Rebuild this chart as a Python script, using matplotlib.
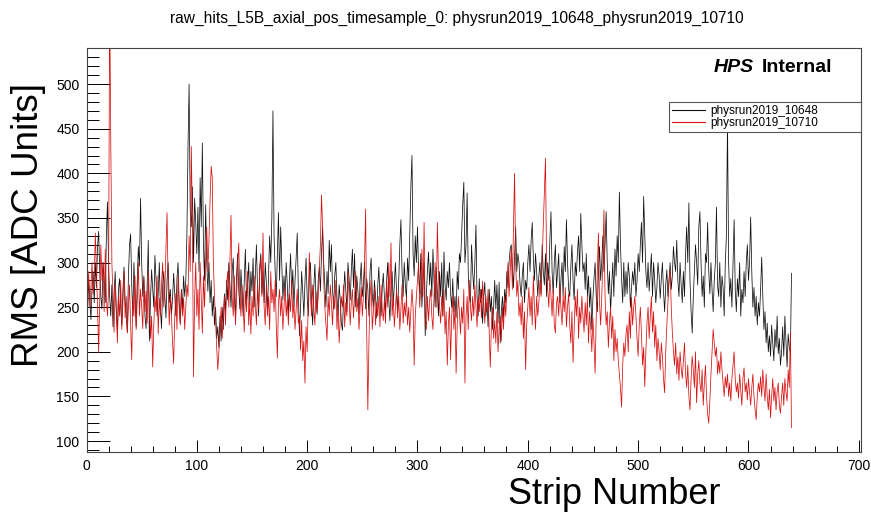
import numpy as np
import matplotlib
matplotlib.use('Agg')
import matplotlib.pyplot as plt
from matplotlib.ticker import MultipleLocator

plt.rcParams['font.family'] = ['Liberation Sans', 'DejaVu Sans']

title = "raw_hits_L5B_axial_pos_timesample_0: physrun2019_10648_physrun2019_10710"
series_names = ["physrun2019_10648", "physrun2019_10710"]
x_label = "Strip Number"
y_label = "RMS [ADC Units]"

rms_10648 = [
    262, 245, 280, 258, 236, 270, 290, 255, 300, 272,
    318, 335, 290, 262, 248, 300, 280, 255, 330, 368,
    300, 262, 240, 275, 228, 265, 290, 245, 222, 270,
    282, 250, 230, 268, 295, 258, 240, 222, 285, 320,
    332, 275, 240, 300, 262, 228, 280, 318, 296, 372,
    300, 262, 285, 240, 226, 278, 325, 212, 258, 292,
    270, 250, 308, 282, 240, 265, 300, 248, 226, 272,
    290, 262, 238, 280, 300, 255, 270, 242, 260, 288,
    265, 240, 282, 300, 255, 232, 270, 248, 285, 262,
    280, 330, 430, 500, 360, 340, 385, 300, 372, 345,
    310, 362, 290, 395, 340, 434, 320, 280, 365, 300,
    268, 300, 255, 280, 240, 262, 230, 250, 215, 228,
    205, 240, 212, 250, 225, 265, 245, 280, 258, 300,
    275, 250, 290, 305, 262, 240, 285, 310, 270, 248,
    292, 265, 240, 280, 315, 258, 275, 300, 252, 290,
    268, 305, 250, 285, 320, 272, 240, 295, 310, 265,
    290, 255, 300, 278, 245, 285, 330, 300, 350, 470,
    330, 290, 262, 310, 356, 280, 340, 300, 258, 285,
    262, 300, 275, 240, 282, 310, 265, 292, 250, 280,
    305, 333, 270, 218, 250, 290, 268, 240, 278, 305,
    262, 240, 285, 300, 255, 230, 272, 298, 260, 242,
    280, 295, 268, 310, 340, 300, 275, 250, 290, 265,
    325, 290, 320, 270, 248, 285, 300, 262, 240, 275,
    258, 232, 224, 260, 290, 270, 245, 300, 282, 258,
    290, 315, 272, 310, 250, 285, 268, 242, 280, 300,
    262, 275, 300, 248, 282, 270, 240, 290, 305, 265,
    250, 280, 262, 238, 275, 295, 258, 240, 270, 288,
    262, 245, 280, 300, 258, 235, 270, 290, 252, 275,
    300, 268, 245, 280, 320, 348, 290, 262, 300, 275,
    260, 305, 280, 330, 385, 420, 310, 285, 330, 300,
    340, 290, 265, 310, 250, 280, 300, 218, 262, 290,
    312, 275, 300, 262, 315, 280, 250, 295, 268, 240,
    290, 262, 300, 240, 312, 275, 258, 290, 272, 300,
    265, 250, 282, 245, 262, 238, 290, 270, 310, 300,
    330, 365, 390, 300, 320, 378, 290, 262, 255, 320,
    290, 270, 300, 342, 260, 240, 282, 255, 270, 232,
    262, 278, 240, 255, 228, 270, 245, 262, 225, 250,
    280, 248, 275, 232, 278, 210, 245, 262, 238, 270,
    255, 290, 272, 300, 315, 320, 295, 272, 305, 340,
    290, 310, 300, 275, 262, 285, 300, 255, 280, 270,
    300, 320, 290, 325, 345, 305, 280, 310, 290, 262,
    285, 300, 265, 320, 290, 275, 310, 262, 300, 280,
    325, 357, 290, 265, 300, 320, 272, 290, 310, 255,
    280, 300, 262, 318, 290, 348, 300, 270, 262, 295,
    320, 280, 258, 300, 285, 312, 330, 290, 355, 320,
    290, 300, 270, 310, 262, 285, 250, 272, 225, 260,
    282, 300, 262, 245, 290, 318, 280, 300, 330, 290,
    320, 357, 300, 265, 290, 245, 272, 300, 262, 315,
    285, 330, 300, 379, 320, 282, 255, 300, 262, 290,
    265, 300, 285, 250, 272, 290, 275, 300, 262, 280,
    310, 290, 320, 345, 300, 374, 330, 290, 272, 300,
    268, 290, 310, 262, 300, 280, 255, 272, 300, 285,
    260, 282, 300, 268, 245, 275, 292, 262, 280, 300,
    270, 285, 318, 300, 290, 325, 280, 262, 300, 275,
    255, 290, 262, 310, 340, 300, 367, 280, 245, 221,
    262, 290, 320, 300, 275, 340, 357, 300, 262, 285,
    250, 310, 300, 345, 290, 265, 300, 270, 245, 280,
    300, 362, 275, 262, 300, 250, 285, 272, 240, 300,
    330, 460, 300, 262, 282, 250, 300, 348, 270, 245,
    282, 262, 300, 240, 270, 255, 290, 262, 300, 320,
    280, 300, 351, 290, 250, 272, 240, 262, 230, 255,
    240, 270, 306, 262, 225, 245, 210, 232, 200, 218,
    195, 230, 210, 190, 225, 205, 240, 198, 215, 185,
    200, 228, 195, 240, 210, 183, 220, 205, 198, 288,
]

rms_10710 = [
    278, 260, 290, 250, 272, 300, 265, 282, 333, 290,
    250, 199, 262, 320, 280, 300, 245, 315, 262, 240,
    270, 600, 437, 300, 260, 222, 275, 248, 210, 262,
    240, 280, 225, 255, 290, 238, 262, 221, 250, 275,
    230, 191, 262, 240, 285, 225, 258, 300, 240, 270,
    250, 226, 282, 245, 268, 232, 290, 250, 215, 240,
    183, 230, 262, 245, 285, 220, 260, 240, 275, 300,
    250, 268, 315, 356, 275, 230, 262, 240, 210, 187,
    240, 265, 225, 285, 250, 230, 268, 240, 260, 225,
    250, 275, 262, 330, 290, 430, 345, 172, 260, 300,
    240, 270, 225, 300, 262, 221, 285, 250, 300, 340,
    290, 325, 370, 408, 395, 300, 262, 235, 205, 180,
    200, 225, 250, 215, 240, 262, 230, 275, 290, 250,
    300, 353, 262, 240, 285, 230, 258, 300, 322, 262,
    240, 275, 250, 222, 268, 245, 290, 230, 255, 220,
    262, 240, 285, 255, 230, 272, 248, 290, 305, 262,
    333, 250, 230, 275, 240, 262, 225, 290, 255, 270,
    245, 280, 230, 193, 255, 270, 240, 262, 225, 250,
    272, 240, 258, 230, 265, 245, 280, 238, 255, 225,
    248, 270, 232, 240, 202, 235, 190, 212, 165, 228,
    200, 255, 311, 262, 240, 275, 250, 230, 268, 245,
    262, 290, 320, 376, 340, 280, 250, 232, 213, 262,
    240, 275, 255, 230, 262, 248, 280, 225, 250, 210,
    235, 262, 250, 275, 228, 255, 240, 290, 262, 230,
    255, 270, 238, 262, 290, 245, 260, 225, 250, 272,
    240, 262, 300, 360, 220, 135, 210, 262, 280, 225,
    245, 272, 230, 255, 240, 262, 228, 275, 250, 235,
    258, 232, 280, 250, 300, 262, 322, 240, 262, 228,
    250, 270, 238, 262, 225, 248, 275, 232, 255, 240,
    262, 230, 250, 222, 245, 270, 250, 185, 240, 262,
    280, 300, 250, 272, 315, 262, 345, 240, 225, 262,
    235, 258, 270, 240, 225, 262, 300, 250, 345, 290,
    250, 232, 262, 240, 270, 220, 245, 185, 230, 250,
    191, 240, 262, 225, 250, 176, 230, 262, 245, 220,
    250, 232, 270, 165, 240, 262, 225, 280, 250, 235,
    262, 240, 275, 250, 228, 262, 245, 270, 238, 279,
    255, 232, 262, 245, 270, 222, 183, 230, 250, 215,
    235, 210, 245, 200, 228, 240, 212, 250, 225, 262,
    240, 270, 300, 262, 290, 315, 270, 340, 400, 300,
    262, 280, 240, 255, 230, 262, 215, 245, 180, 230,
    250, 272, 240, 262, 230, 285, 250, 225, 262, 240,
    255, 280, 262, 300, 340, 380, 417, 300, 270, 250,
    285, 262, 240, 270, 230, 221, 255, 262, 240, 275,
    250, 230, 262, 245, 272, 228, 250, 265, 230, 210,
    245, 188, 225, 262, 240, 270, 215, 250, 232, 262,
    240, 222, 255, 230, 262, 210, 245, 228, 200, 238,
    210, 176, 240, 290, 333, 255, 230, 262, 300, 359,
    262, 230, 245, 205, 232, 250, 215, 240, 190, 225,
    200, 215, 190, 175, 160, 138, 185, 210, 195, 220,
    230, 200, 245, 215, 261, 230, 250, 262, 240, 215,
    195, 230, 250, 220, 185, 205, 161, 200, 232, 250,
    215, 240, 262, 222, 245, 205, 230, 190, 215, 200,
    180, 210, 195, 170, 154, 200, 230, 255, 280, 292,
    250, 222, 200, 185, 210, 175, 194, 168, 200, 182,
    170, 190, 210, 175, 160, 185, 150, 135, 170, 195,
    180, 160, 200, 143, 175, 190, 165, 155, 180, 140,
    165, 185, 150, 130, 120, 145, 175, 200, 225, 210,
    195, 205, 175, 190, 176, 200, 180, 165, 150, 172,
    160, 175, 150, 165, 145, 170, 185, 200, 170, 155,
    165, 148, 175, 158, 140, 170, 182, 155, 165, 146,
    170, 155, 140, 160, 175, 150, 135, 124, 150, 165,
    155, 172, 150, 180, 160, 145, 175, 150, 135, 158,
    126, 150, 170, 145, 160, 135, 155, 165, 140, 131,
    150, 165, 140, 170, 155, 145, 180, 160, 222, 115,
]

assert len(rms_10648) == 640 and len(rms_10710) == 640
strips = np.arange(len(rms_10648))

W, H = 871, 516
fig = plt.figure(figsize=(W / 100, H / 100), dpi=100)
L, R, T, B = 86.5, 861, 48, 452
ax = fig.add_axes([L / W, 1 - B / H, (R - L) / W, (B - T) / H])

l1, = ax.plot(strips, rms_10648, color='#111111', lw=0.55)
l2, = ax.plot(strips, rms_10710, color='#d81010', lw=0.55)

ax.set_xlim(0, 702)
ax.set_ylim(87.7, 540.5)

ax.xaxis.set_major_locator(MultipleLocator(100))
ax.xaxis.set_minor_locator(MultipleLocator(20))
ax.yaxis.set_major_locator(MultipleLocator(50))
ax.yaxis.set_minor_locator(MultipleLocator(10))
ax.tick_params(axis='x', which='major', direction='in', length=8.6, width=0.7,
               top=False, pad=5, labelsize=10)
ax.tick_params(axis='x', which='minor', direction='in', length=4.3, width=0.7, top=False)
ax.tick_params(axis='y', which='major', direction='in', length=16.6, width=0.7,
               right=False, pad=5, labelsize=10)
ax.tick_params(axis='y', which='minor', direction='in', length=8.3, width=0.7, right=False)
for s in ax.spines.values():
    s.set_color('#444444')
    s.set_linewidth(0.8)

# legend box: x 669..861, y 101.7..133 px
lx0, ly0, lx1, ly1 = 669, 101.7, 861, 133
leg = ax.legend([l1, l2], series_names, loc='upper left',
                bbox_to_anchor=(lx0 / W, 1 - ly1 / H, (lx1 - lx0) / W, (ly1 - ly0) / H),
                bbox_transform=fig.transFigure, mode='expand', borderaxespad=0,
                fontsize=8.5, handlelength=2.8, handletextpad=0.45,
                borderpad=0.25, labelspacing=0.05, frameon=True, fancybox=False,
                framealpha=1, edgecolor='#555555')
leg.get_frame().set_linewidth(0.8)
for ln in leg.get_lines():
    ln.set_linewidth(0.8)

fig.text(714 / W, 1 - 68 / H, "HPS", fontsize=14, fontweight='bold',
         fontstyle='italic', ha='left', va='center')
fig.text(762 / W, 1 - 68 / H, "Internal", fontsize=14, fontweight='bold',
         ha='left', va='center')

fig.text(457 / W, 1 - 18 / H, title, fontsize=11.2, ha='center', va='center')
fig.text(720 / W, 1 - 504 / H, x_label, fontsize=26, ha='right', va='baseline')
fig.text(28 / W, 1 - 225 / H, y_label, fontsize=26.5, rotation=90,
         ha='center', va='center')

fig.savefig('out.png', dpi=100)
